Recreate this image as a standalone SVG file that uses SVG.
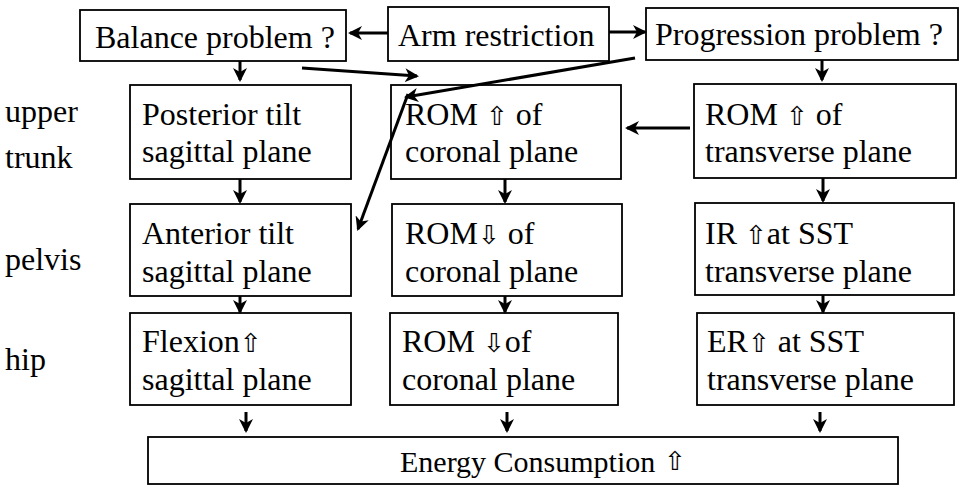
<svg xmlns="http://www.w3.org/2000/svg" width="961" height="494" viewBox="0 0 961 494">
<defs>
<style>
.box{fill:#fff;stroke:#000;stroke-width:1.8}
.t{font-size:32px;fill:#000}
.ar{font-family:"DejaVu Sans",sans-serif;font-size:26px}
.c{stroke:#000;stroke-width:3;fill:none;marker-end:url(#h)}
</style>
<marker id="h" viewBox="0 0 14 14" refX="12" refY="7" markerWidth="14" markerHeight="14" markerUnits="userSpaceOnUse" orient="auto">
<path d="M0,0 L14,7 L0,14 L4,7 Z" fill="#000"/>
</marker>
</defs>
<rect width="961" height="494" fill="#fff"/>
<g font-family="Liberation Serif, Times New Roman, DejaVu Serif, serif">
<g id="labels">
<text class="t" x="5" y="122">upper</text>
<text class="t" x="5" y="168">trunk</text>
<text class="t" x="5" y="270">pelvis</text>
<text class="t" x="5" y="370">hip</text>
</g>
<g id="balance"><rect class="box" x="80" y="10" width="266" height="51"/><text class="t" x="95" y="48">Balance problem ?</text></g>
<g id="arm"><rect class="box" x="388" y="7" width="221" height="54"/><text class="t" x="398" y="46">Arm restriction</text></g>
<g id="progression"><rect class="box" x="646" y="8" width="312" height="52"/><text class="t" x="655" y="45">Progression problem ?</text></g>
<g id="posterior"><rect class="box" x="130" y="85" width="221" height="94"/><text class="t" x="142" y="125">Posterior tilt</text><text class="t" x="142" y="162">sagittal plane</text></g>
<g id="romcor1"><rect class="box" x="391" y="85" width="230" height="94"/><text class="t" x="405" y="125">ROM <tspan class="ar">⇧</tspan> of</text><text class="t" x="405" y="162">coronal plane</text></g>
<g id="romtra"><rect class="box" x="694" y="84" width="262" height="94"/><text class="t" x="705" y="125">ROM <tspan class="ar">⇧</tspan> of</text><text class="t" x="705" y="162">transverse plane</text></g>
<g id="anterior"><rect class="box" x="130" y="204" width="221" height="92"/><text class="t" x="142" y="244">Anterior tilt</text><text class="t" x="142" y="282">sagittal plane</text></g>
<g id="romcor2"><rect class="box" x="392" y="204" width="230" height="92"/><text class="t" x="405" y="244">ROM<tspan class="ar">⇩</tspan> of</text><text class="t" x="405" y="282">coronal plane</text></g>
<g id="ir"><rect class="box" x="695" y="203" width="259" height="92"/><text class="t" x="705" y="244">IR <tspan class="ar">⇧</tspan>at SST</text><text class="t" x="705" y="282">transverse plane</text></g>
<g id="flexion"><rect class="box" x="130" y="313" width="221" height="92"/><text class="t" x="142" y="352">Flexion<tspan class="ar">⇧</tspan></text><text class="t" x="142" y="390">sagittal plane</text></g>
<g id="romcor3"><rect class="box" x="390" y="313" width="228" height="92"/><text class="t" x="402" y="352">ROM <tspan class="ar">⇩</tspan>of</text><text class="t" x="402" y="390">coronal plane</text></g>
<g id="er"><rect class="box" x="697" y="313" width="257" height="92"/><text class="t" x="707" y="352">ER<tspan class="ar">⇧</tspan> at SST</text><text class="t" x="707" y="390">transverse plane</text></g>
<g id="energy"><rect class="box" x="148" y="437" width="750" height="47"/><text class="t" x="400" y="472" style="font-size:30px">Energy Consumption</text><text class="t ar" x="664" y="470">⇧</text></g>
</g>
<g id="connectors">
<line class="c" x1="388" y1="33" x2="350" y2="33"/>
<line class="c" x1="609" y1="32" x2="645" y2="32"/>
<line class="c" x1="240" y1="61" x2="240" y2="80"/>
<line class="c" x1="822" y1="60" x2="822" y2="80"/>
<line class="c" x1="240" y1="179" x2="240" y2="202"/>
<line class="c" x1="505" y1="179" x2="505" y2="202"/>
<line class="c" x1="823" y1="178" x2="823" y2="201"/>
<line class="c" x1="240" y1="296" x2="240" y2="312"/>
<line class="c" x1="505" y1="296" x2="505" y2="312"/>
<line class="c" x1="823" y1="295" x2="823" y2="312"/>
<line class="c" x1="246" y1="412" x2="246" y2="431"/>
<line class="c" x1="507" y1="412" x2="507" y2="431"/>
<line class="c" x1="820" y1="412" x2="820" y2="431"/>
<line class="c" x1="302" y1="68" x2="417" y2="76"/>
<line class="c" x1="635" y1="58" x2="406" y2="97"/>
<line class="c" x1="408" y1="94" x2="358" y2="229"/>
<line class="c" x1="690" y1="128" x2="627" y2="128"/>
</g>
</svg>
